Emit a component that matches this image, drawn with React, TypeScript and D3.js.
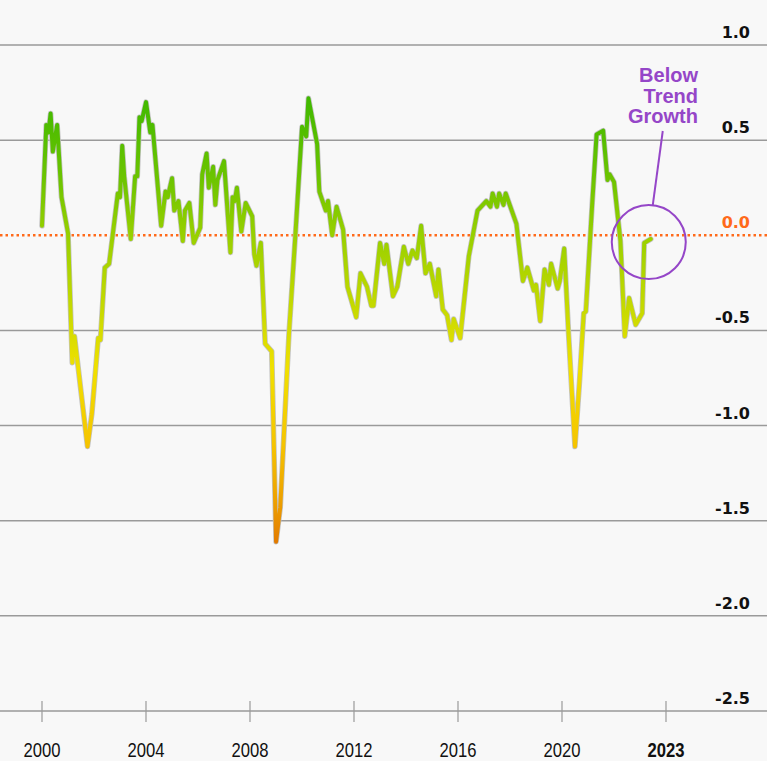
import React from "react";
import * as d3 from "d3";

const width = 767;
const height = 761;
const margin = { top: 45, right: 17, bottom: 50, left: 42 };

// monthly readings, "YYYY-MM"
const dates = [
  "2000-01", "2000-03", "2000-04", "2000-05", "2000-06", "2000-08", "2000-10",
  "2001-01", "2001-03", "2001-04", "2001-10", "2001-12", "2002-03", "2002-04",
  "2002-06", "2002-08", "2002-12", "2003-01", "2003-02", "2003-03", "2003-06",
  "2003-08", "2003-09", "2003-10", "2003-11", "2004-01", "2004-03", "2004-04",
  "2004-08", "2004-10", "2004-11", "2005-01", "2005-02", "2005-04", "2005-06",
  "2005-07", "2005-09", "2005-11", "2006-02", "2006-03", "2006-05", "2006-06",
  "2006-08", "2006-09", "2006-10", "2007-01", "2007-04", "2007-05", "2007-06",
  "2007-07", "2007-09", "2007-11", "2008-02", "2008-03", "2008-04", "2008-06",
  "2008-08", "2008-11", "2009-01", "2009-03", "2009-07", "2009-10", "2010-01",
  "2010-03", "2010-04", "2010-08", "2010-09", "2010-12", "2011-01", "2011-03",
  "2011-05", "2011-08", "2011-10", "2012-02", "2012-04", "2012-07", "2012-09",
  "2012-10", "2013-01", "2013-03", "2013-04", "2013-07", "2013-09", "2013-12",
  "2014-02", "2014-04", "2014-06", "2014-08", "2014-10", "2014-12", "2015-03",
  "2015-04", "2015-06", "2015-08", "2015-10", "2015-11", "2016-02", "2016-06",
  "2016-10", "2017-02", "2017-04", "2017-05", "2017-07", "2017-08", "2017-10",
  "2017-11", "2018-04", "2018-05", "2018-07", "2018-09", "2018-12", "2019-01",
  "2019-03", "2019-05", "2019-07", "2019-08", "2019-11", "2019-12", "2020-02",
  "2020-04", "2020-07", "2020-09", "2020-11", "2020-12", "2021-03", "2021-05",
  "2021-08", "2021-10", "2021-11", "2022-01", "2022-04", "2022-06", "2022-08",
  "2022-11", "2023-02", "2023-03", "2023-06",
];

const values = [
  0.05, 0.58, 0.54, 0.64, 0.44, 0.58, 0.2,
  0.01, -0.67, -0.53, -1.11, -0.94, -0.54, -0.55,
  -0.17, -0.15, 0.22, 0.2, 0.47, 0.31, -0.02,
  0.31, 0.31, 0.62, 0.6, 0.7, 0.54, 0.58,
  0.05, 0.23, 0.2, 0.3, 0.13, 0.18, -0.03,
  0.13, 0.17, -0.04, 0.04, 0.32, 0.43, 0.25,
  0.36, 0.16, 0.29, 0.39, -0.09, 0.2, 0.18,
  0.25, 0.02, 0.17, 0.1, -0.1, -0.16, -0.04,
  -0.57, -0.61, -1.61, -1.43, -0.52, 0.01, 0.57,
  0.52, 0.72, 0.48, 0.23, 0.13, 0.18, 0.0,
  0.15, 0.03, -0.27, -0.43, -0.2, -0.27, -0.37,
  -0.37, -0.04, -0.15, -0.05, -0.32, -0.27, -0.06,
  -0.15, -0.08, -0.12, 0.05, -0.2, -0.15, -0.32,
  -0.18, -0.39, -0.42, -0.55, -0.44, -0.54, -0.11,
  0.13, 0.18, 0.15, 0.22, 0.15, 0.22, 0.16,
  0.22, 0.06, -0.04, -0.24, -0.17, -0.29, -0.26,
  -0.45, -0.18, -0.26, -0.15, -0.28, -0.24, -0.07,
  -0.51, -1.11, -0.78, -0.41, -0.4, 0.17, 0.53,
  0.55, 0.29, 0.32, 0.28, -0.03, -0.53, -0.33,
  -0.47, -0.41, -0.04, -0.02,
];

const yTicks = [1.0, 0.5, 0.0, -0.5, -1.0, -1.5, -2.0, -2.5];
const xTickDates = ["2000-01", "2004-01", "2008-01", "2012-01", "2016-01", "2020-01", "2024-01"];
const xTickLabels = ["2000", "2004", "2008", "2012", "2016", "2020", "2023"];
const annotationLines = ["Below", "Trend", "Growth"];

// colour ramp along the value axis
const rampValues = [0.75, 0.3, 0.0, -0.4, -0.7, -1.1, -1.4, -1.65];
const rampColors = ["#3db800", "#6cc400", "#98d000", "#c8da00", "#f0e000", "#f5c400", "#eda000", "#e07400"];

const parse = d3.timeParse("%Y-%m");
const data = dates.map((d, i) => ({ date: parse(d) as Date, value: values[i] }));

const x = d3
  .scaleTime()
  .domain([parse("2000-01") as Date, parse("2024-01") as Date])
  .range([margin.left, 666]);
const y = d3.scaleLinear().domain([-2.5, 1.0]).range([height - margin.bottom, margin.top]);

const line = d3
  .line<{ date: Date; value: number }>()
  .x((d) => x(d.date))
  .y((d) => y(d.value));

const purple = "#9546c8";
const orange = "#ff6a1a";

export default function App() {
  const path = line(data) || "";
  const last = data[data.length - 1];
  const cx = x(last.date) - 2;
  const cy = y(last.value) + 3;
  return (
    <svg
      width={width}
      height={height}
      style={{ position: "absolute", top: 0, left: 0, display: "block", background: "#f8f8f8" }}
    >
      <defs>
        <linearGradient id="ramp" gradientUnits="userSpaceOnUse" x1={0} x2={0} y1={y(rampValues[0])} y2={y(rampValues[rampValues.length - 1])}>
          {rampValues.map((v, i) => (
            <stop
              key={i}
              offset={(y(v) - y(rampValues[0])) / (y(rampValues[rampValues.length - 1]) - y(rampValues[0]))}
              stopColor={rampColors[i]}
            />
          ))}
        </linearGradient>
      </defs>
      <rect width={width} height={height} fill="#f8f8f8" />

      {/* grid */}
      {yTicks.map((t) =>
        t === 0 ? null : (
          <line key={t} x1={0} x2={width} y1={y(t)} y2={y(t)} stroke="#9a9a9a" strokeWidth={1.5} />
        )
      )}

      {/* x axis ticks */}
      {xTickDates.map((d, i) => {
        const px = x(parse(d) as Date);
        return (
          <g key={d}>
            <line x1={px} x2={px} y1={y(-2.5) - 10} y2={y(-2.5) + 11} stroke="#9a9a9a" strokeWidth={1.2} />
            <text
              x={px}
              y={757}
              textAnchor="middle"
              fontFamily="'Liberation Sans Narrow', 'Arial Narrow', 'Liberation Sans', Arial, sans-serif"
              fontSize={21}
              fontWeight={i === xTickLabels.length - 1 ? "bold" : "normal"}
              textLength={37}
              lengthAdjust="spacingAndGlyphs"
              fill="#111"
            >
              {xTickLabels[i]}
            </text>
          </g>
        );
      })}

      {/* zero line */}
      <line
        x1={0}
        x2={width}
        y1={y(0)}
        y2={y(0)}
        stroke={orange}
        strokeWidth={2.5}
        strokeDasharray="2.5 3"
      />

      {/* y labels */}
      {yTicks.map((t) => (
        <text
          key={"l" + t}
          x={750}
          y={y(t) - 7}
          textAnchor="end"
          fontFamily="'DejaVu Sans', Verdana, sans-serif"
          fontWeight="bold"
          fontSize={16}
          fill={t === 0 ? orange : "#111"}
        >
          {t.toFixed(1)}
        </text>
      ))}

      {/* series */}
      <path d={path} fill="none" stroke="#c2c2c2" strokeWidth={5.5} strokeLinejoin="round" strokeLinecap="round" />
      <path d={path} fill="none" stroke="url(#ramp)" strokeWidth={4} strokeLinejoin="round" strokeLinecap="round" />

      {/* annotation */}
      <circle cx={cx} cy={cy} r={37} fill="none" stroke={purple} strokeWidth={2} />
      <line x1={cx + 14} y1={131} x2={cx + 4} y2={cy - 37} stroke={purple} strokeWidth={2} />
      {annotationLines.map((s, i) => (
        <text
          key={s}
          x={698}
          y={82 + i * 20.5}
          textAnchor="end"
          fontFamily="'Liberation Sans', Arial, sans-serif"
          fontWeight="bold"
          fontSize={20}
          fill={purple}
        >
          {s}
        </text>
      ))}
    </svg>
  );
}
